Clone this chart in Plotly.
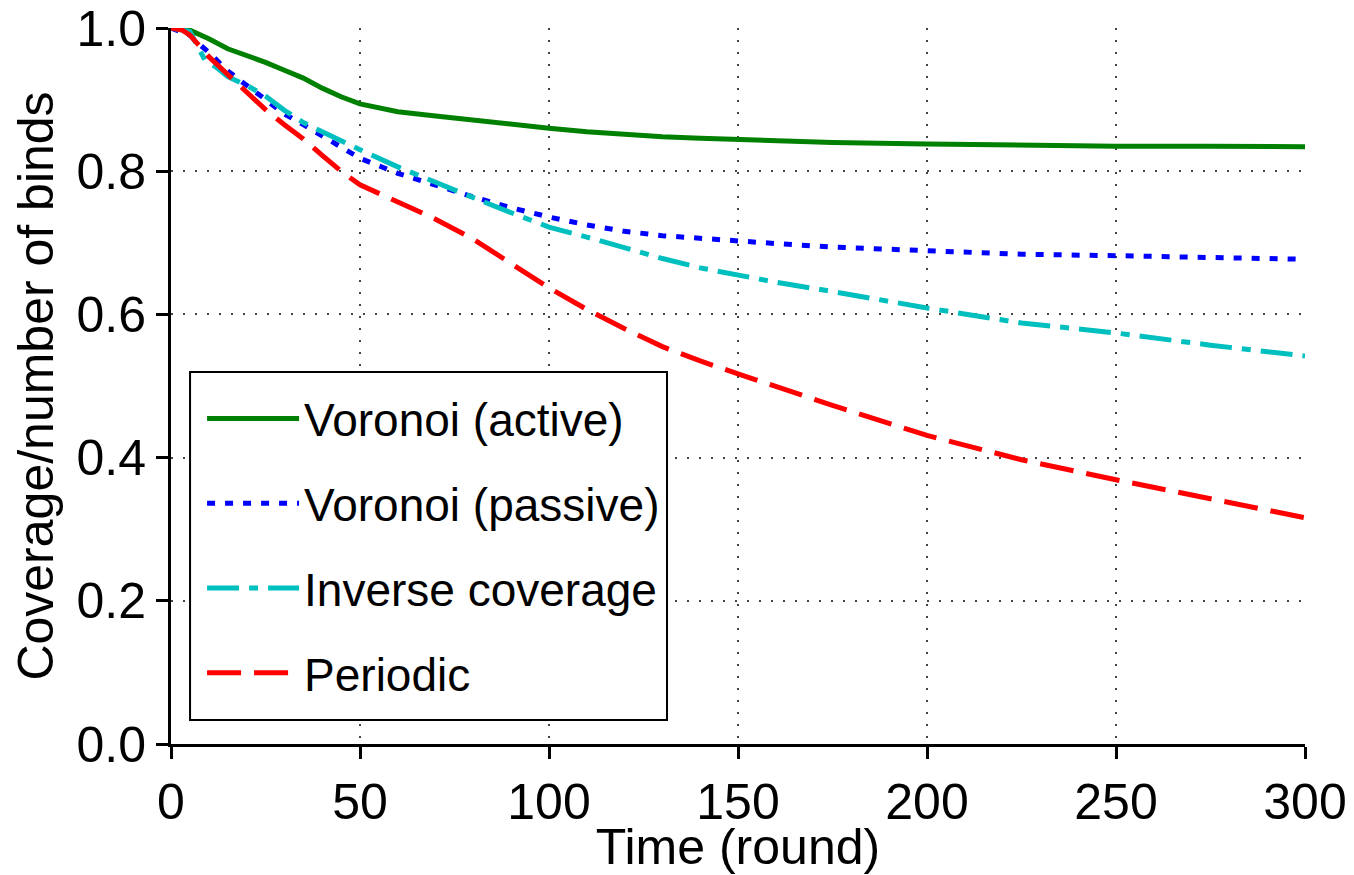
import plotly.graph_objects as go

# ---- data ----
x_active = [0, 3, 5, 8, 10, 15, 20, 25, 30, 35, 40, 45, 50, 55, 60, 70, 80, 90, 100, 110, 120, 130, 140, 150, 160, 175, 200, 225, 250, 275, 300]
y_active = [1.0, 1.0, 0.997, 0.99, 0.985, 0.971, 0.962, 0.952, 0.941, 0.93, 0.916, 0.904, 0.894, 0.888, 0.883, 0.877, 0.871, 0.865, 0.860, 0.855, 0.851, 0.848, 0.846, 0.844, 0.842, 0.840, 0.838, 0.836, 0.835, 0.835, 0.834]

x_passive = [0, 3, 5, 8, 10, 15, 20, 25, 30, 35, 40, 45, 50, 60, 70, 80, 90, 100, 110, 120, 130, 140, 150, 160, 175, 200, 225, 250, 275, 300]
y_passive = [1.0, 0.995, 0.99, 0.975, 0.966, 0.94, 0.92, 0.90, 0.88, 0.865, 0.85, 0.834, 0.818, 0.797, 0.780, 0.764, 0.749, 0.736, 0.725, 0.716, 0.710, 0.706, 0.702, 0.699, 0.694, 0.689, 0.684, 0.682, 0.679, 0.677]

x_inverse = [0, 3, 5, 7, 9, 12, 15, 20, 25, 30, 35, 40, 45, 50, 60, 70, 80, 90, 100, 110, 120, 130, 140, 150, 160, 175, 200, 225, 250, 275, 300]
y_inverse = [1.0, 0.998, 0.995, 0.975, 0.955, 0.945, 0.932, 0.92, 0.905, 0.885, 0.868, 0.855, 0.842, 0.830, 0.806, 0.784, 0.763, 0.742, 0.722, 0.708, 0.693, 0.678, 0.665, 0.655, 0.645, 0.632, 0.609, 0.588, 0.574, 0.557, 0.542]

x_periodic = [0, 3, 5, 10, 15, 20, 25, 30, 35, 40, 45, 50, 60, 70, 80, 90, 100, 110, 120, 130, 140, 150, 160, 175, 200, 225, 250, 275, 300]
y_periodic = [1.0, 0.997, 0.99, 0.96, 0.935, 0.91, 0.886, 0.865, 0.845, 0.822, 0.80, 0.781, 0.757, 0.733, 0.705, 0.672, 0.637, 0.607, 0.580, 0.555, 0.535, 0.517, 0.499, 0.473, 0.431, 0.397, 0.369, 0.342, 0.316]

series_names = ["Voronoi (active)", "Voronoi (passive)", "Inverse coverage", "Periodic"]
x_ticks = [0, 50, 100, 150, 200, 250, 300]
y_ticks = [0.0, 0.2, 0.4, 0.6, 0.8, 1.0]
y_tick_labels = ["0.0", "0.2", "0.4", "0.6", "0.8", "1.0"]

FONT = "Liberation Sans, Arial, Helvetica, sans-serif"

fig = go.Figure()
styles = [
    dict(color="#008000", width=5, dash="solid"),
    dict(color="#0000ff", width=5, dash="8px,10px"),
    dict(color="#00bfbf", width=5, dash="32px,10px,9px,10px"),
    dict(color="#ff0000", width=5, dash="34px,13px"),
]
data = [(x_active, y_active), (x_passive, y_passive), (x_inverse, y_inverse), (x_periodic, y_periodic)]
for i, ((xs, ys), name, st) in enumerate(zip(data, series_names, styles)):
    fig.add_trace(go.Scatter(x=xs, y=ys, mode="lines", name=name, line=st,
                             legendgroup=f"g{i}"))

# legend frame (white box with black border) drawn as a layout shape
fig.add_shape(type="rect", xref="paper", yref="paper",
              x0=0.0168, x1=0.4374, y0=0.0335, y1=0.5196,
              line=dict(color="black", width=2), fillcolor="white", layer="above")

# the page body has an 8px default margin, so the figure is sized/offset for it
fig.update_layout(
    width=1346, height=867,
    margin=dict(l=163, r=49, t=20, b=131, autoexpand=False),
    paper_bgcolor="white", plot_bgcolor="white",
    font=dict(family=FONT, size=50, color="black"),
    showlegend=True,
    legend=dict(
        x=0.0274, y=0.5056, xanchor="left", yanchor="top",
        bgcolor="rgba(0,0,0,0)", borderwidth=0,
        font=dict(family=FONT, size=46, color="black"),
        traceorder="grouped", tracegroupgap=22, itemwidth=92,
    ),
)
fig.update_xaxes(
    range=[0, 300], tickvals=x_ticks, ticktext=[str(v) for v in x_ticks],
    showline=True, linecolor="black", linewidth=3,
    ticks="outside", ticklen=12, tickwidth=3, tickcolor="black",
    showgrid=True, gridcolor="#444", gridwidth=1.5, griddash="2px,10px",
    zeroline=False, tickfont=dict(size=50), automargin=False,
    ticklabeloverflow="allow",
    title=dict(text="Time (round)", font=dict(size=50), standoff=2),
)
fig.update_yaxes(
    range=[0, 1.0], tickvals=y_ticks, ticktext=y_tick_labels,
    showline=True, linecolor="black", linewidth=3,
    ticks="outside", ticklen=12, tickwidth=3, tickcolor="black",
    showgrid=True, gridcolor="#444", gridwidth=1.5, griddash="2px,10px",
    zeroline=False, tickfont=dict(size=50), automargin=False,
    ticklabeloverflow="allow",
    title=dict(text="Coverage/number of binds", font=dict(size=50), standoff=8),
)

fig.write_html("out.html")
